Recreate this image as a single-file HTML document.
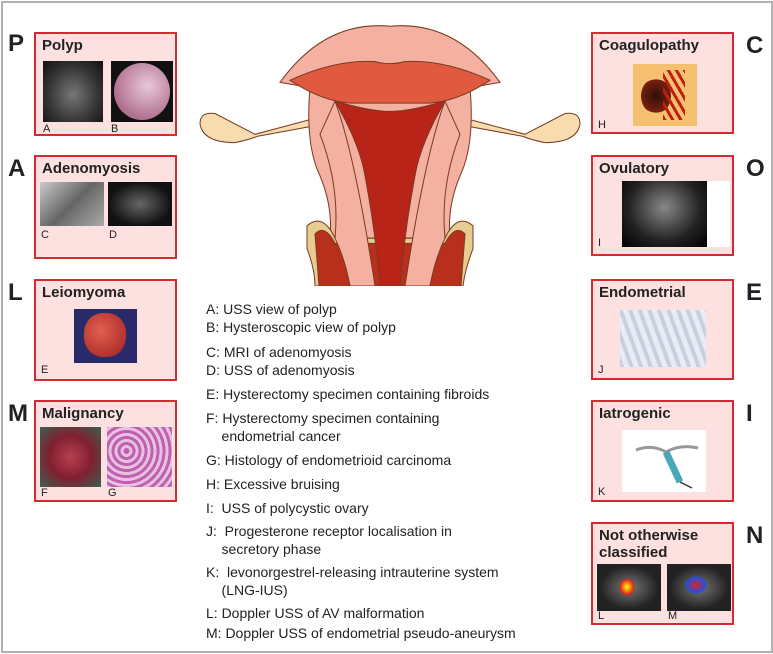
<!DOCTYPE html>
<html><head><meta charset="utf-8"><style>
body{margin:0;width:773px;height:654px;background:#fff;position:relative;overflow:hidden;font-family:"Liberation Sans",sans-serif}
.frame{position:absolute;left:1px;top:1px;width:768px;height:648px;border:2px solid #b0b0b0}
.box{position:absolute;width:143px;background:#fde0e0;border:2px solid #d42a30;box-sizing:border-box}
.box h3{margin:0;position:absolute;left:6px;top:3px;font-size:15px;font-weight:bold;color:#222}
.big{position:absolute;font-size:24px;font-weight:bold;color:#222}
.img{position:absolute}
.cap{position:absolute;font-size:11px;color:#222}
.list{position:absolute;left:206px;top:300px;font-size:14px;color:#222;line-height:18px}
.list div{position:relative}
</style></head><body>
<div class="frame"></div>

<div class="big" style="left:8px;top:30px">P</div>
<div class="box" style="left:34px;top:32px;height:104px"><h3>Polyp</h3>
<div class="img" style="left:7px;top:27px;width:60px;height:61px;background:radial-gradient(ellipse at 50% 55%,#777,#333 60%,#111)"></div>
<div class="img" style="left:75px;top:27px;width:62px;height:61px;background:#111"><div style="position:absolute;left:3px;top:2px;width:56px;height:57px;border-radius:50%;background:radial-gradient(circle at 60% 40%,#e8c8d8,#b07090 70%)"></div></div>
<div class="cap" style="left:7px;top:89px">A</div><div class="cap" style="left:75px;top:89px">B</div></div>

<div class="big" style="left:8px;top:155px">A</div>
<div class="box" style="left:34px;top:155px;height:104px"><h3>Adenomyosis</h3>
<div class="img" style="left:4px;top:25px;width:64px;height:44px;background:linear-gradient(135deg,#ccc,#666 50%,#aaa)"></div>
<div class="img" style="left:72px;top:25px;width:64px;height:44px;background:radial-gradient(ellipse,#666,#111 70%)"></div>
<div class="cap" style="left:5px;top:72px">C</div><div class="cap" style="left:73px;top:72px">D</div></div>

<div class="big" style="left:8px;top:279px">L</div>
<div class="box" style="left:34px;top:279px;height:102px"><h3>Leiomyoma</h3>
<div class="img" style="left:38px;top:28px;width:63px;height:54px;background:#2a2a6a"><div style="position:absolute;left:10px;top:4px;width:42px;height:44px;border-radius:45%;background:radial-gradient(circle at 40% 40%,#e06050,#a02020)"></div></div>
<div class="cap" style="left:5px;top:83px">E</div></div>

<div class="big" style="left:8px;top:400px">M</div>
<div class="box" style="left:34px;top:400px;height:102px"><h3>Malignancy</h3>
<div class="img" style="left:4px;top:25px;width:61px;height:60px;background:radial-gradient(circle,#b84050,#802030 50%,#3a6050)"></div>
<div class="img" style="left:71px;top:25px;width:65px;height:60px;background:repeating-radial-gradient(circle at 30% 40%,#c060b0 0 3px,#e8c0e0 3px 6px)"></div>
<div class="cap" style="left:5px;top:85px">F</div><div class="cap" style="left:72px;top:85px">G</div></div>

<div class="big" style="left:746px;top:32px">C</div>
<div class="box" style="left:591px;top:32px;height:102px"><h3>Coagulopathy</h3>
<div class="img" style="left:40px;top:30px;width:64px;height:62px;background:#f5c070"><div style="position:absolute;left:8px;top:14px;width:30px;height:36px;border-radius:50%;background:radial-gradient(circle,#301008,#7a2010 70%,transparent 72%)"></div><div style="position:absolute;left:30px;top:6px;width:22px;height:50px;background:repeating-linear-gradient(60deg,#c02010 0 3px,transparent 3px 7px)"></div></div>
<div class="cap" style="left:5px;top:85px">H</div></div>

<div class="big" style="left:746px;top:155px">O</div>
<div class="box" style="left:591px;top:155px;height:101px"><h3>Ovulatory</h3>
<div class="img" style="left:29px;top:24px;width:85px;height:66px;background:radial-gradient(ellipse at 50% 40%,#888,#222 60%,#000)"></div>
<div class="img" style="left:114px;top:24px;width:23px;height:66px;background:#fff"></div>
<div class="cap" style="left:5px;top:80px">I</div></div>

<div class="big" style="left:746px;top:279px">E</div>
<div class="box" style="left:591px;top:279px;height:101px"><h3>Endometrial</h3>
<div class="img" style="left:27px;top:29px;width:86px;height:57px;background:repeating-linear-gradient(70deg,#c8d0e0 0 4px,#e8ecf4 4px 9px)"></div>
<div class="cap" style="left:5px;top:83px">J</div></div>

<div class="big" style="left:746px;top:400px">I</div>
<div class="box" style="left:591px;top:400px;height:102px"><h3>Iatrogenic</h3>
<div class="img" style="left:29px;top:28px;width:84px;height:62px;background:#fff">
<svg width="84" height="62"><path d="M14 20 Q30 14 44 22 Q58 14 76 18" stroke="#999" stroke-width="3" fill="none"/><path d="M44 22 L58 52" stroke="#4aa8b8" stroke-width="7"/><path d="M58 52 L70 58" stroke="#333" stroke-width="1.5"/></svg></div>
<div class="cap" style="left:5px;top:84px">K</div></div>

<div class="big" style="left:746px;top:522px">N</div>
<div class="box" style="left:591px;top:522px;height:103px"><h3 style="line-height:17px">Not otherwise<br>classified</h3>
<div class="img" style="left:4px;top:40px;width:64px;height:47px;background:radial-gradient(ellipse,#777,#222 65%)"><div style="position:absolute;left:22px;top:14px;width:16px;height:18px;background:radial-gradient(#ff0,#e02020 60%,transparent 70%)"></div></div>
<div class="img" style="left:74px;top:40px;width:64px;height:47px;background:radial-gradient(ellipse,#777,#222 65%)"><div style="position:absolute;left:18px;top:12px;width:22px;height:18px;background:radial-gradient(#e02020,#2050e0 60%,transparent 72%)"></div></div>
<div class="cap" style="left:5px;top:86px">L</div><div class="cap" style="left:75px;top:86px">M</div></div>

<svg style="position:absolute;left:195px;top:20px" width="390" height="266" viewBox="0 0 390 256" preserveAspectRatio="none">
<g stroke="#7a3a20" stroke-width="1">
<path d="M130 92 L60 110 Q40 100 20 90 Q5 88 5 100 Q8 118 40 118 Q55 115 62 112 L130 100Z" fill="#f7dcb0"/>
<path d="M260 92 L330 110 Q350 100 370 90 Q385 88 385 100 Q382 118 350 118 Q335 115 328 112 L260 100Z" fill="#f7dcb0"/>
<path d="M85 60 Q130 0 195 6 Q260 0 305 60 L275 65 Q280 120 265 150 Q252 180 255 210 L135 210 Q138 180 125 150 Q110 120 115 65Z" fill="#f4b0a0"/>
<path d="M112 220 L112 198 Q128 185 140 210 L250 210 Q262 185 278 198 L278 220 Q270 240 268 256 L120 256 Q120 240 112 220Z" fill="#e6cc90"/>
<path d="M120 206 Q130 196 140 215 L250 215 Q260 196 270 206 L266 256 L124 256Z" fill="#b8301c"/>
<path d="M95 58 Q140 38 180 40 Q195 44 210 40 Q250 38 295 58 Q260 80 230 80 L160 80 Q130 80 95 58Z" fill="#e05a40"/>
<path d="M140 78 Q175 88 195 88 Q215 88 250 78 Q225 120 220 150 Q210 200 205 256 L185 256 Q180 200 170 150 Q165 120 140 78Z" fill="#b82418"/>
<path d="M140 78 Q160 130 180 256 L155 256 Q150 230 140 210 Q145 160 125 110 Z" fill="#f4b0a0"/>
<path d="M250 78 Q230 130 210 256 L235 256 Q240 230 250 210 Q245 160 265 110 Z" fill="#f4b0a0"/>
</g></svg>

<div class="list">
<div style="top:0">A: USS view of polyp</div>
<div style="top:0">B: Hysteroscopic view of polyp</div>
<div style="top:7px">C: MRI of adenomyosis</div>
<div style="top:7px">D: USS of adenomyosis</div>
<div style="top:13px">E: Hysterectomy specimen containing fibroids</div>
<div style="top:19px">F: Hysterectomy specimen containing<br>&nbsp;&nbsp;&nbsp;&nbsp;endometrial cancer</div>
<div style="top:25px">G: Histology of endometrioid carcinoma</div>
<div style="top:31px">H: Excessive bruising</div>
<div style="top:37px">I:&nbsp;&nbsp;USS of polycystic ovary</div>
<div style="top:42px">J:&nbsp;&nbsp;Progesterone receptor localisation in<br>&nbsp;&nbsp;&nbsp;&nbsp;secretory phase</div>
<div style="top:47px">K:&nbsp;&nbsp;levonorgestrel-releasing intrauterine system<br>&nbsp;&nbsp;&nbsp;&nbsp;(LNG-IUS)</div>
<div style="top:52px">L: Doppler USS of AV malformation</div>
<div style="top:54px">M: Doppler USS of endometrial pseudo-aneurysm</div>
</div>
</body></html>
